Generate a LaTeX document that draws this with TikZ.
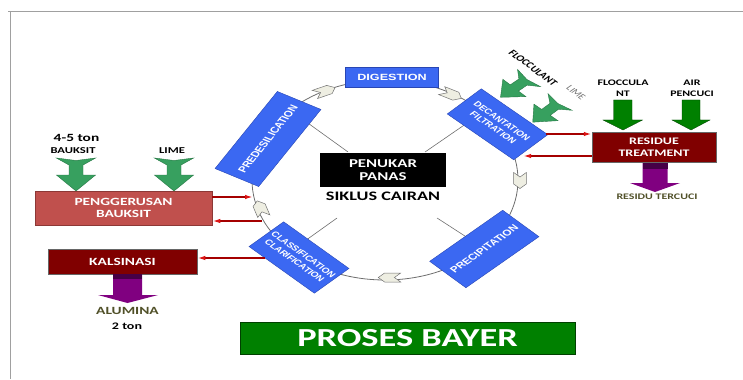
\documentclass[tikz,border=0pt]{standalone}
\usepackage{fontspec}
\setmainfont{Carlito}
\newfontfamily\arialf{Liberation Sans}
\usetikzlibrary{shapes.symbols, arrows.meta, calc}
\definecolor{bluebox}{RGB}{59,104,242}
\definecolor{blueedge}{RGB}{40,70,180}
\definecolor{maroonbox}{RGB}{128,0,0}
\definecolor{salmonbox}{RGB}{192,80,77}
\definecolor{salmonedge}{RGB}{140,56,54}
\definecolor{greenbox}{RGB}{0,128,0}
\definecolor{tgreen}{RGB}{55,160,95}
\definecolor{tgreenedge}{RGB}{40,120,70}
\definecolor{purp}{RGB}{128,0,128}
\definecolor{purpdark}{RGB}{70,0,70}
\definecolor{olivetext}{RGB}{80,80,40}
\definecolor{arrowfill}{RGB}{238,238,226}
\definecolor{ringgray}{RGB}{110,110,110}
\definecolor{redline}{RGB}{165,0,0}
\definecolor{redtip}{RGB}{220,20,20}
\definecolor{framegray}{RGB}{160,160,160}
\tikzset{
  bluebx/.style={draw=blueedge, line width=0.4pt, fill=bluebox, text=white,
    font=\arialf\bfseries\fontsize{8.5}{9.5}\selectfont, inner sep=0pt, align=center},
  smallblue/.style={font=\arialf\bfseries\fontsize{7.4}{9}\selectfont},
  hollow/.style={signal, signal to=east, signal from=west, draw=black!55,
    fill=arrowfill, line width=0.5pt, minimum width=16pt, minimum height=9pt, inner sep=0pt},
  spoke/.style={draw=ringgray, line width=0.6pt},
  redarrow/.style={draw=redline, line width=1.5pt, -{Latex[length=8pt,width=4.5pt,color=redtip]}},
  lbl/.style={inner sep=0pt, font=\bfseries\fontsize{9}{11}\selectfont},
  tarrow/.pic={
    \fill[tgreen, draw=tgreenedge, line width=0.4pt]
      (0pt,14pt) -- (2.5pt,0pt) -- (0pt,-14pt) -- (7pt,-5pt) -- (17pt,-5pt) -- (17pt,-14pt)
      -- (33pt,0pt) -- (17pt,14pt) -- (17pt,5pt) -- (7pt,5pt) -- cycle;
  }
}
\begin{document}
\begin{tikzpicture}[x=0.714286pt, y=-1pt, xscale=1.4, transform shape]
\useasboundingbox (0,0) rectangle (743,379);
% frame
\draw[framegray, line width=1pt] (743,12) -- (8,12);
\draw[framegray, line width=1pt] (10,12) -- (10,379);
% ring and spokes
\draw[ringgray, line width=0.8pt] (385,180) ellipse [x radius=133, y radius=100];
\coordinate (sp1a) at (305,121); \coordinate (sp1b) at (348,152);
\coordinate (sp2a) at (470,121); \coordinate (sp2b) at (425,152);
\coordinate (sp3a) at (471,240); \coordinate (sp3b) at (437,218);
\coordinate (sp4a) at (302,243); \coordinate (sp4b) at (337,218);
\draw[spoke] (sp1a) -- (sp1b);
\draw[spoke] (sp2a) -- (sp2b);
\draw[spoke] (sp3a) -- (sp3b);
\draw[spoke] (sp4a) -- (sp4b);
% hollow arrows on ring
\node[hollow, rotate=25.6] (a1) at (325,91) {};
\node[hollow, rotate=-29] (a2) at (451.5,94.5) {};
\node[hollow, rotate=-90] (a3) at (520,180.5) {};
\node[hollow, rotate=180] (a4) at (389.5,277.5) {};
\node[hollow, rotate=107] (a5) at (260.5,208.5) {};
% blue boxes
\node[bluebx, minimum width=66.4pt, minimum height=20pt, font=\arialf\bfseries\fontsize{9}{10}\selectfont] (dig) at (392,77) {DIGESTION};
\node[bluebx, rotate=60, minimum width=89pt, minimum height=36pt] (pre) at (268,139) {PREDESILICATION};
\node[bluebx, smallblue, rotate=-44, minimum width=66pt, minimum height=35pt] (dec) at (497.5,124.3) {DECANTATION\\FILTRATION};
\node[bluebx, rotate=44.4, minimum width=73pt, minimum height=37pt] (pcp) at (484.3,249) {PRECIPITATION};
\node[bluebx, smallblue, rotate=-45, minimum width=66pt, minimum height=35pt] (cla) at (299,257.5) {CLASSIFICATION\\CLARIFICATION};
% centre
\node[fill=black, minimum width=90pt, minimum height=34pt, text=white, align=center, inner sep=0pt,
  font=\bfseries\fontsize{12}{13}\selectfont] (hx) at (383,170) {PENUKAR\\PANAS};
\node[inner sep=0pt, font=\bfseries\fontsize{13}{14}\selectfont] (sik) at (383,196) {SIKLUS CAIRAN};
% left side
\node[inner sep=0pt, font=\bfseries\fontsize{11}{12}\selectfont] (t45) at (76.5,137.5) {4-5 ton};
\node[lbl] (tbk) at (73,151) {BAUKSIT};
\node[lbl] (tlm) at (172,151) {LIME};
\pic[rotate=-90] at (76,158) {tarrow};
\pic[rotate=-90] at (174,158) {tarrow};
\node[fill=salmonbox, draw=salmonedge, minimum width=126.4pt, minimum height=34pt, text=white, align=center,
  inner sep=0pt, font=\bfseries\fontsize{11}{12}\selectfont] (pen) at (123.5,208) {PENGGERUSAN\\BAUKSIT};
\node[fill=maroonbox, draw=black!60, minimum width=106.4pt, minimum height=25pt, text=white,
  inner sep=0pt, font=\bfseries\fontsize{11}{12}\selectfont] (kal) at (122.5,261.5) {KALSINASI};
\fill[purp] (113,274) -- (142,274) -- (142,295) -- (158,295) -- (127.5,303) -- (98,295) -- (113,295) -- cycle;
\fill[purpdark] (113,274) rectangle (142,279);
\node[inner sep=0pt, text=olivetext, font=\bfseries\fontsize{11}{12}\selectfont] (alu) at (127.5,311) {ALUMINA};
\node[inner sep=0pt, font=\bfseries\fontsize{10}{12}\selectfont] (two) at (127,326) {2 ton};
% right side
\node[inner sep=0pt, rotate=-46, font=\bfseries\fontsize{8.5}{10}\selectfont] (fl2) at (533,68) {FLOCCULANT};
\node[inner sep=0pt, rotate=-46, text=black!55, font=\fontsize{8}{10}\selectfont] (lm2) at (576,93) {LIME};
\pic[rotate=223.5, scale=0.85] at (529,78) {tarrow};
\pic[rotate=226, scale=0.85] at (560,102) {tarrow};
\node[lbl, align=center, font=\bfseries\fontsize{8.5}{11}\selectfont] (flo) at (623,88.5) {FLOCCULA\\NT};
\node[lbl, align=center, font=\bfseries\fontsize{8.5}{11}\selectfont] (air) at (692,88.5) {AIR\\PENCUCI};
\fill[greenbox, draw=green!25!black, line width=0.3pt] (613.5,100) -- (632,100) -- (632,120) -- (642.5,120) -- (623,130) -- (603,120) -- (613.5,120) -- cycle;
\fill[greenbox, draw=green!25!black, line width=0.3pt] (682,100) -- (700,100) -- (700,120) -- (710,120) -- (691,130) -- (672,120) -- (682,120) -- cycle;
\node[fill=maroonbox, draw=black!60, minimum width=88.6pt, minimum height=30pt, text=white, align=center,
  inner sep=0pt, font=\bfseries\fontsize{10}{12}\selectfont] (res) at (654,147) {RESIDUE\\TREATMENT};
\fill[purp] (642.5,163) -- (667.5,163) -- (667.5,183) -- (680,183) -- (655,192) -- (630,183) -- (642.5,183) -- cycle;
\fill[purpdark] (642.5,163) rectangle (667.5,169);
\node[inner sep=0pt, text=olivetext, font=\bfseries\fontsize{8.5}{10}\selectfont] (rt) at (657,197) {RESIDU TERCUCI};
% red connectors
\coordinate (r1) at (253,197);
\coordinate (r2) at (262,221);
\coordinate (r3) at (265,258);
\coordinate (r4) at (546,134);
\coordinate (r5) at (523,156);
\draw[redarrow] (r1 -| pen.east) -- (r1);
\draw[redarrow] (r2) -- (r2 -| pen.east);
\draw[redarrow] (r3) -- (r3 -| kal.east);
\draw[redarrow] (r4) -- (r4 -| res.west);
\draw[redarrow] (r5 -| res.west) -- (r5);
% title
\node[fill=greenbox, draw=green!25!black, minimum width=239.3pt, minimum height=32pt, text=white,
  inner sep=0pt, font=\bfseries\fontsize{26}{28}\selectfont] (pb) at (407.5,338) {PROSES BAYER};
\end{tikzpicture}
\end{document}
